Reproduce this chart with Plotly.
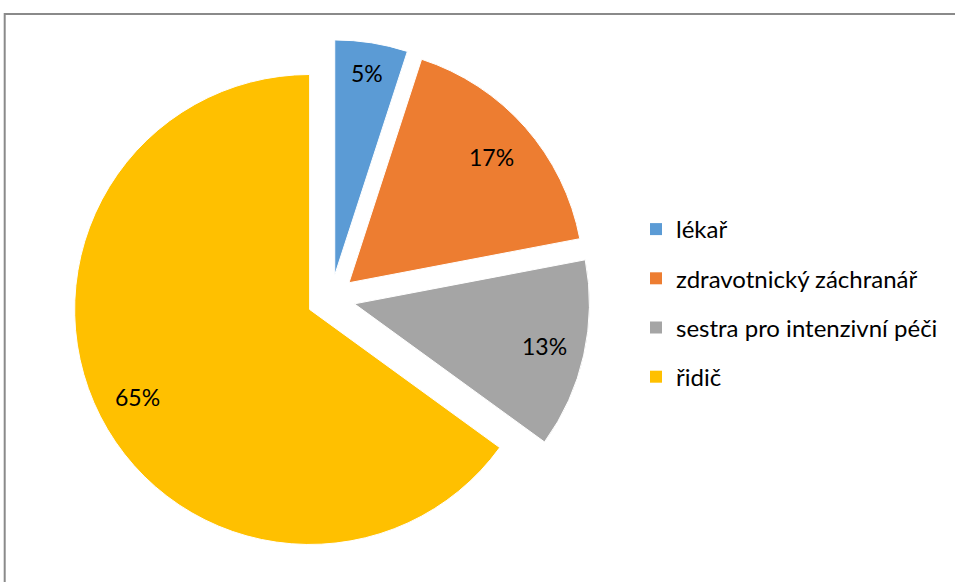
import math
import plotly.graph_objects as go

# Staff composition (share of respondents, %)
categories = ["lékař", "zdravotnický záchranář", "sestra pro intenzivní péči", "řidič"]
shares = [5, 17, 13, 65]
colors = ["#5B9BD5", "#ED7D31", "#A5A5A5", "#FFC000"]

W, H = 955, 582
FONT = "Lato"

# pie placement (pixels) and explosion
cx_px, cy_px = 331.0, 298.6
radius_px = 235.0
pull = 0.102
# radial position of each data label, as a fraction of the radius
label_frac = [0.87, 0.81, 0.83, 0.82]

box = radius_px * (2 + 2 * pull)
dom_x = [(cx_px - box / 2) / W, (cx_px + box / 2) / W]
dom_y = [1 - (cy_px + box / 2) / H, 1 - (cy_px - box / 2) / H]

fig = go.Figure()
fig.add_trace(go.Pie(
    labels=categories,
    values=shares,
    marker=dict(colors=colors, line=dict(color="white", width=1)),
    sort=False,
    direction="clockwise",
    rotation=0,
    pull=[pull] * len(shares),
    textinfo="none",
    hoverinfo="label+percent",
    showlegend=False,
    domain=dict(x=dom_x, y=dom_y),
))

# percentage labels placed along each slice's mid-angle
total = sum(shares)
start = 0.0
annotations = []
for v, frac in zip(shares, label_frac):
    span = 360.0 * v / total
    mid = math.radians(start + span / 2)
    start += span
    dist = pull * radius_px + frac * radius_px
    px = cx_px + dist * math.sin(mid)
    py = cy_px - dist * math.cos(mid)
    annotations.append(dict(
        x=px / W, y=1 - py / H, xref="paper", yref="paper",
        text=f"{round(100 * v / total)}%", showarrow=False,
        xanchor="center", yanchor="middle",
        font=dict(family=FONT, size=23, color="#000000"),
    ))

# legend entries as separate groups so the rows are spaced apart
for name, col in zip(categories, colors):
    fig.add_trace(go.Scatter(
        x=[None], y=[None], mode="markers", name=name,
        marker=dict(symbol="square", size=12, color=col),
        legendgroup=name, showlegend=True, hoverinfo="skip",
    ))

fig.update_layout(
    width=W, height=H,
    margin=dict(l=0, r=0, t=0, b=0),
    paper_bgcolor="white", plot_bgcolor="white",
    xaxis=dict(visible=False), yaxis=dict(visible=False),
    annotations=annotations,
    legend=dict(
        x=636 / W, y=1 - 207 / H, xanchor="left", yanchor="top",
        font=dict(family=FONT, size=24, color="#000000"),
        tracegroupgap=15, bgcolor="rgba(0,0,0,0)",
    ),
    shapes=[dict(
        type="rect", xref="paper", yref="paper",
        x0=4.7 / W, x1=1.02, y0=-0.02, y1=1 - 14 / H,
        line=dict(color="#8A8A8A", width=2), fillcolor="rgba(0,0,0,0)",
        layer="below",
    )],
)

fig.write_html("out.html")
